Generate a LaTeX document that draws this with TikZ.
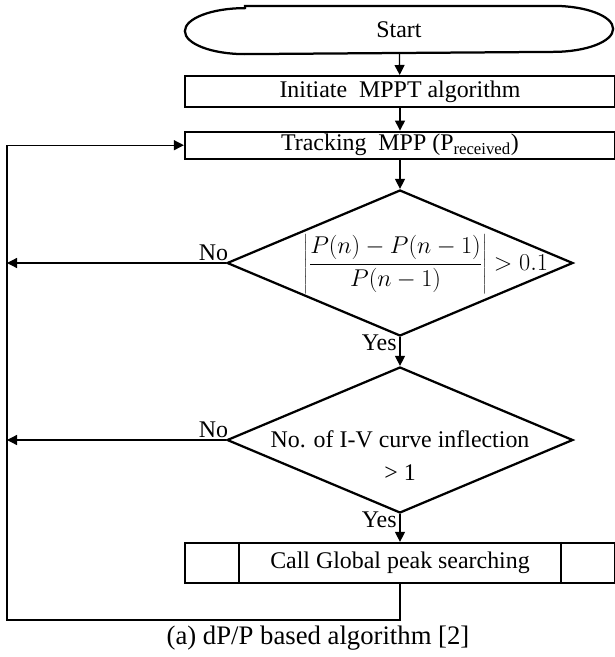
\documentclass[tikz,border=0pt]{standalone}
\usepackage{fontspec}
\setmainfont{Liberation Serif}
\usetikzlibrary{arrows.meta, positioning, shapes.geometric, calc}
\tikzset{
  every picture/.style={font=\fontsize{17}{23.5}\selectfont, line width=0.9pt},
  box/.style={draw, line width=1.6pt, minimum width=10.75cm, minimum height=0.7cm, inner sep=0pt},
  dec/.style={draw, diamond, line width=1.6pt, minimum width=8.65cm, minimum height=3.65cm, inner sep=0pt},
  arrow/.style={-{Triangle[length=0.25cm, width=0.25cm]}},
  lab/.style={inner sep=1pt},
}

\begin{document}
\begin{tikzpicture}
  \useasboundingbox (0,0) rectangle (15.35,-16.425);
  \node[box, draw=none, minimum width=10.65cm, minimum height=1.15cm] (start) at (9.975,-0.75) {Start};
  \draw[line width=1.6pt] ([xshift=1.5cm]start.north west) -- ([xshift=-1.5cm]start.north east)
    arc[start angle=90, end angle=-90, x radius=1.5cm, y radius=0.575cm] -- ([xshift=1.5cm]start.south west)
    arc[start angle=270, end angle=90, x radius=1.5cm, y radius=0.575cm] -- cycle;
  \node[box, minimum height=0.775cm] (init) at (10,-2.29) {Initiate \ MPPT algorithm};
  \node[box, minimum height=0.675cm] (track) at (10,-3.63) {Tracking \ MPP (P\textsubscript{received})};
  \node[dec] (dia1) at (10,-6.575) {};
  \node[font=\fontsize{18.5}{22}\selectfont] (ratio) at (10.65,-6.6) {$\displaystyle\left|\frac{P(n)-P(n-1)}{P(n-1)}\right| > 0.1$};
  \node[dec] (dia2) at (10,-11.0) {};
  \node[align=center] (infl) at (10,-11.4) {No. of I-V curve inflection\\> 1};
  \node[box, minimum height=1cm] (call) at (10,-14.075) {Call Global peak searching};
  \draw[line width=1.6pt] ([xshift=1.375cm]call.north west) -- ([xshift=1.375cm]call.south west);
  \draw[line width=1.6pt] ([xshift=-1.375cm]call.north east) -- ([xshift=-1.375cm]call.south east);
  \node[font=\fontsize{19}{22}\selectfont] (cap) at (7.95,-15.95) {(a) dP/P based algorithm [2]};
  % main flow
  \draw[arrow] (start) -- (init);
  \draw[arrow] (init) -- (track);
  \draw[arrow] (track) -- (dia1);
  \draw[arrow] (dia1) -- node[lab, pos=0, anchor=north east, yshift=3pt, xshift=-1pt] {Yes} (dia2);
  \draw[arrow] (dia2) -- node[lab, pos=0, anchor=north east, yshift=3pt, xshift=-1pt] {Yes} (call);
  % loop back
  \coordinate (fb) at (0.175,-15.5);
  \draw[arrow] (call) |- (fb) |- (track);
  \draw[arrow] (dia1.west) node[lab, anchor=south east, xshift=3pt] {No} -- (dia1.west -| fb);
  \draw[arrow] (dia2.west) node[lab, anchor=south east, xshift=3pt] {No} -- (dia2.west -| fb);
\end{tikzpicture}
\end{document}
